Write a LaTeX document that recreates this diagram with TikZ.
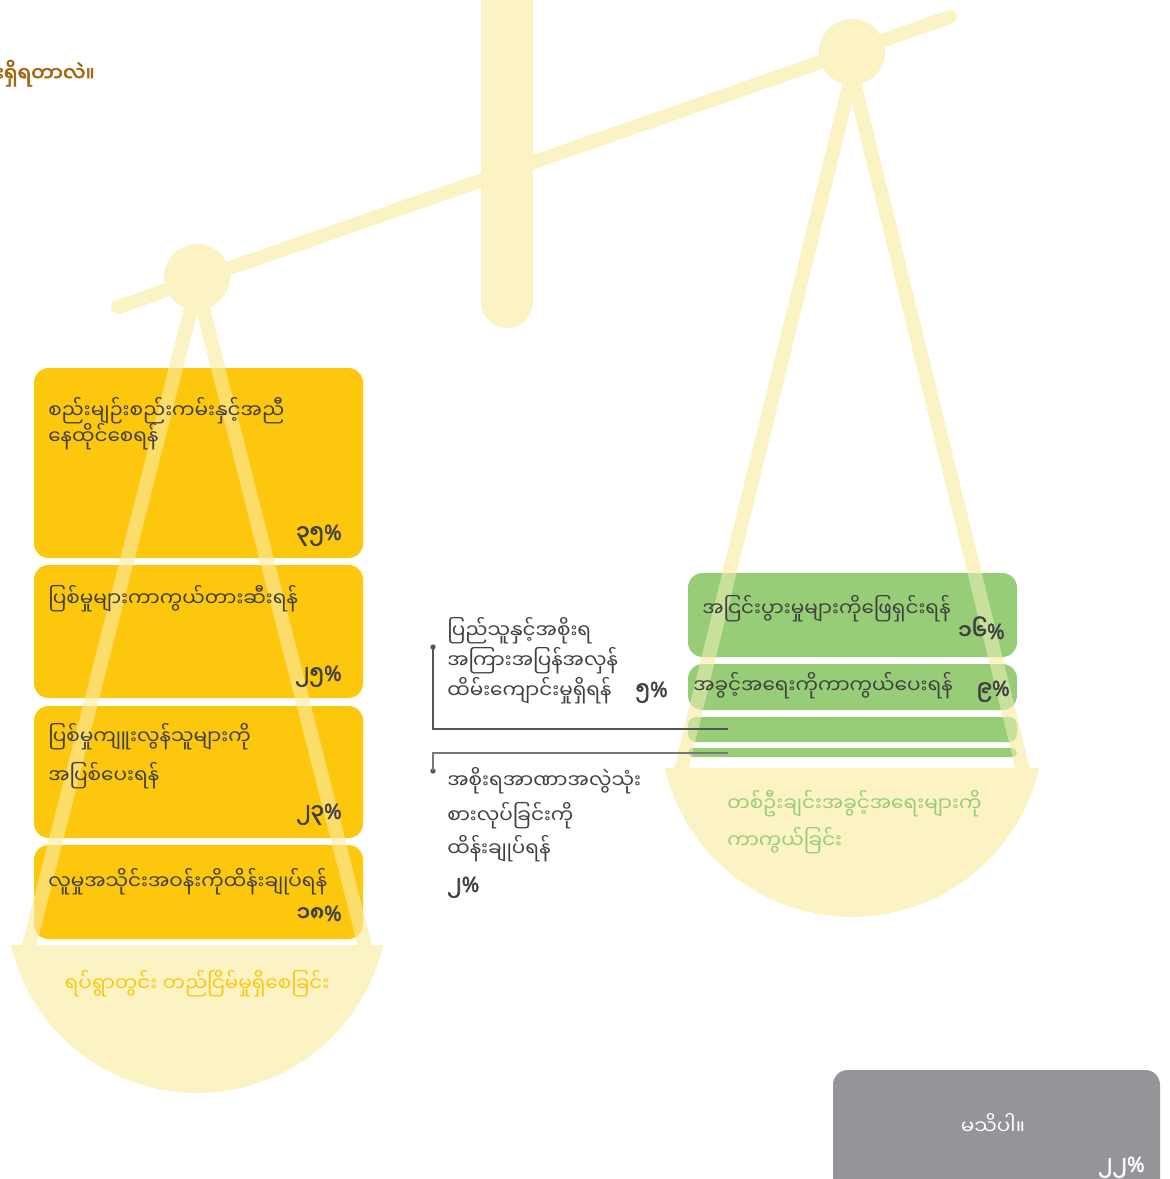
\documentclass[tikz,border=0pt]{standalone}
\usepackage{fontspec}
\setmainfont{Noto Sans}
\newfontfamily\mm[Script=Myanmar]{Noto Sans Myanmar UI}
\newfontfamily\mmb[Script=Myanmar,FakeBold=3]{Noto Sans Myanmar UI}
\newfontfamily\pctfont[FakeBold=2]{Noto Sans}
\definecolor{paleY}{HTML}{FCF3C4}
\definecolor{boxY}{HTML}{FDC70E}
\definecolor{boxG}{HTML}{97CD76}
\definecolor{boxGray}{HTML}{939598}
\definecolor{txt}{HTML}{404040}
\definecolor{brownT}{HTML}{A6680F}
\definecolor{lineC}{HTML}{555555}
\tikzset{
  mmtxt/.style={font=\mm\fontsize{15}{18}\selectfont, text=txt, inner sep=0pt, anchor=base west},
  pcttxt/.style={font=\mmb\fontsize{16}{18}\selectfont, text=txt, inner sep=0pt, anchor=base east},
  ybox/.style={fill=boxY},
  gbox/.style={fill=boxG},
  strg/.style={draw=paleY, line width=10.5pt},
  strgtop/.style={draw=paleY, line width=10.5pt, draw opacity=0.5},
  conn/.style={draw=lineC, line width=0.9pt},
  dotc/.style={circle, fill=lineC, inner sep=0pt, minimum size=4pt}
}
\newcommand{\pc}{{\pctfont\fontsize{16}{18}\selectfont\%}}
\begin{document}
\begin{tikzpicture}[x=0.75pt,y=-0.75pt]
\useasboundingbox (0,0) rectangle (1170,1179);
% post
\draw[paleY, line width=39pt, line cap=round] (507,-40) -- (507,302);
% beam
\draw[paleY, line width=10.5pt, line cap=round] (118,307) -- (950,17);
% pivots
\fill[paleY] (197,277) circle (33);
\fill[paleY] (852,52) circle (33);
% strings
\coordinate (la) at (197,285);
\coordinate (ll) at (28,950);
\coordinate (lr) at (366,950);
\coordinate (ra) at (852,74);
\coordinate (rl) at (681,770);
\coordinate (rr) at (1023,770);
\draw[strg] (ll) -- (la) -- (lr);
\draw[strg] (rl) -- (ra) -- (rr);
% bowls
\begin{scope}
\clip (0,945) rectangle (420,1179);
\fill[paleY] (197,902) circle (191);
\end{scope}
\begin{scope}
\clip (640,768) rectangle (1060,1000);
\fill[paleY] (852,725) circle (192);
\end{scope}
% yellow boxes
\fill[ybox, rounded corners=11pt] (34,368) rectangle (363,558);
\fill[ybox, rounded corners=11pt] (34,565) rectangle (363,698);
\fill[ybox, rounded corners=11pt] (34,706) rectangle (363,838);
\fill[ybox, rounded corners=11pt] (34,845) rectangle (363,939);
% green boxes
\fill[gbox, rounded corners=11pt] (688,573) rectangle (1017,657);
\fill[gbox, rounded corners=11pt] (688,664) rectangle (1017,710);
\fill[gbox, rounded corners=6pt] (688,717) rectangle (1017,742);
\fill[gbox, rounded corners=3.5pt] (688,748) rectangle (1017,757);
% strings overlay
\draw[strgtop] (ll) -- (la) -- (lr);
\draw[strgtop] (rl) -- (ra) -- (rr);
% gray box
\fill[boxGray, rounded corners=11pt] (833,1070) rectangle (1160,1210);
% title
\node[font=\mmb\fontsize{15}{18}\selectfont, text=brownT, inner sep=0pt, anchor=base east] (title) at (95,81) {ရဲများရှိရတာလဲ။};
% left box texts
\node[mmtxt] (t1a) at (48,418) {စည်းမျဉ်းစည်းကမ်းနှင့်အညီ};
\node[mmtxt] (t1b) at (48,444) {နေထိုင်စေရန်};
\node[pcttxt] (p1) at (342,540) {၃၅\pc};
\node[mmtxt] (t2a) at (48,606) {ပြစ်မှုများကာကွယ်တားဆီးရန်};
\node[pcttxt] (p2) at (342,681) {၂၅\pc};
\node[mmtxt] (t3a) at (48,744) {ပြစ်မှုကျူးလွန်သူများကို};
\node[mmtxt] (t3b) at (48,783) {အပြစ်ပေးရန်};
\node[pcttxt] (p3) at (342,819) {၂၃\pc};
\node[mmtxt] (t4a) at (48,889) {လူမှုအသိုင်းအဝန်းကိုထိန်းချုပ်ရန်};
\node[pcttxt] (p4) at (342,921) {၁၈\pc};
\node[mmtxt, text=boxY, anchor=base] (lbl) at (197,991) {ရပ်ရွာတွင်း တည်ငြိမ်မှုရှိစေခြင်း};
% middle texts
\node[mmtxt] (m1a) at (447,638) {ပြည်သူနှင့်အစိုးရ};
\node[mmtxt] (m1b) at (447,668) {အကြားအပြန်အလှန်};
\node[mmtxt] (m1c) at (447,698) {ထိမ်းကျောင်းမှုရှိရန်};
\node[pcttxt] (mp1) at (668,697) {၅\pc};
\node[mmtxt] (m2a) at (447,788) {အစိုးရအာဏာအလွဲသုံး};
\node[mmtxt] (m2b) at (447,823) {စားလုပ်ခြင်းကို};
\node[mmtxt] (m2c) at (447,856) {ထိန်းချုပ်ရန်};
\node[pcttxt, anchor=base west] (mp2) at (447,892) {၂\pc};
% connectors
\node[dotc] (d1) at (433,647) {};
\node[dotc] (d2) at (433,771) {};
\coordinate (e1) at (728,729);
\coordinate (e2) at (728,753);
\draw[conn] (d1.center) |- (e1);
\draw[conn, draw=lineC!80] (e2) -| (d2.center);
% green texts
\node[mmtxt] (g1) at (702,616) {အငြင်းပွားမှုများကိုဖြေရှင်းရန်};
\node[pcttxt] (gp1) at (1005,639) {၁၆\pc};
\node[mmtxt] (g2) at (693,693) {အခွင့်အရေးကိုကာကွယ်ပေးရန်};
\node[pcttxt] (gp2) at (1010,696) {၉\pc};
\node[mmtxt, text=boxG] (rl1) at (727,811) {တစ်ဦးချင်းအခွင့်အရေးများကို};
\node[mmtxt, text=boxG] (rl2) at (727,848) {ကာကွယ်ခြင်း};
% gray texts
\node[mmtxt, text=white, anchor=base] (gr) at (993,1134) {မသိပါ။};
\node[pcttxt, text=white] (grp) at (1145,1172) {၂၂\pc};
\end{tikzpicture}
\end{document}
